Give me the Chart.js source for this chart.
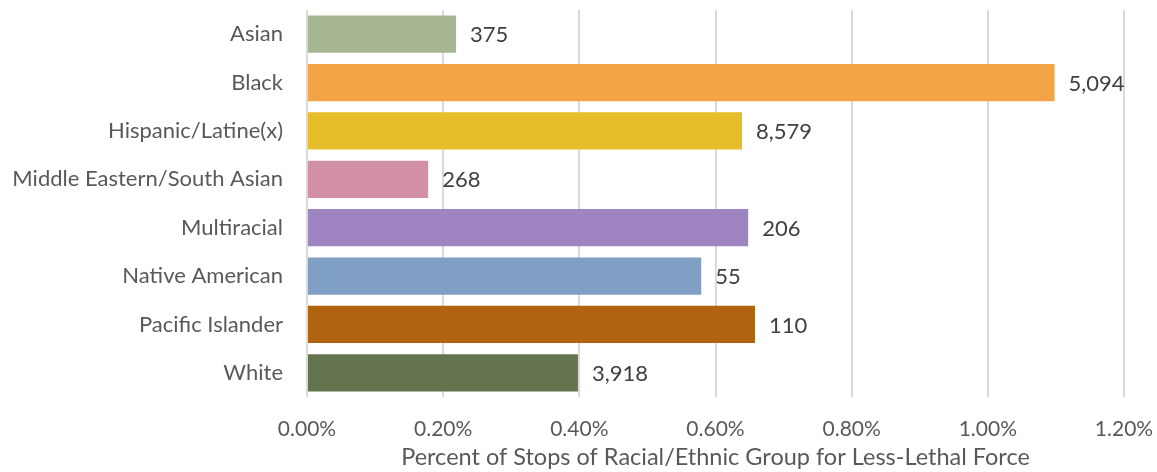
<!DOCTYPE html>
<html>
<head>
<meta charset="utf-8">
<script src="https://cdn.jsdelivr.net/npm/chart.js@4"></script>
<style>
  html, body { margin: 0; padding: 0; background: #fff; }
  #wrap { width: 1157px; height: 472px; }
</style>
</head>
<body>
<div id="wrap"><canvas id="forceChart" width="1157" height="472"></canvas></div>
<script>
const groups = ['Asian', 'Black', 'Hispanic/Latine(x)', 'Middle Eastern/South Asian', 'Multiracial', 'Native American', 'Pacific Islander', 'White']
const percentStops = [0.219, 1.098, 0.639, 0.178, 0.648, 0.579, 0.658, 0.398]
const stopCounts = ['375', '5,094', '8,579', '268', '206', '55', '110', '3,918']
const barColors = ['#a7b692', '#f2a447', '#e6bd2a', '#d290a5', '#9e84c0', '#7f9fc4', '#b0640f', '#64744f']
const xTicks = [0, 0.2, 0.4, 0.6, 0.8, 1.0, 1.2]

const fontFamily = 'Lato, "Open Sans", sans-serif'

const countLabels = {
  id: 'countLabels',
  afterDatasetsDraw(chart) {
    const { ctx } = chart
    const meta = chart.getDatasetMeta(0)
    ctx.save()
    ctx.font = '22px ' + fontFamily
    ctx.fillStyle = '#404040'
    ctx.textAlign = 'left'
    ctx.textBaseline = 'middle'
    meta.data.forEach((bar, i) => {
      ctx.fillText(stopCounts[i], bar.x + 14, bar.y + 1)
    })
    ctx.restore()
  }
}

const ctx = document.getElementById('forceChart').getContext('2d')
new Chart(ctx, {
  type: 'bar',
  data: {
    labels: groups,
    datasets: [{
      data: percentStops,
      backgroundColor: barColors,
      borderWidth: 0,
      barPercentage: 0.77,
      categoryPercentage: 1
    }]
  },
  options: {
    indexAxis: 'y',
    responsive: false,
    animation: false,
    layout: { padding: { top: 10, right: 33, left: 0, bottom: 0 } },
    plugins: {
      legend: { display: false },
      tooltip: { enabled: false }
    },
    scales: {
      x: {
        min: 0,
        max: 1.2,
        afterBuildTicks(scale) {
          scale.ticks = xTicks.map(v => ({ value: v }))
        },
        afterFit(scale) {
          scale.height = 75
          scale.paddingLeft = 0
          scale.paddingRight = 0
        },
        grid: { color: '#d9d9d9', lineWidth: 2, drawTicks: false },
        border: { display: false },
        ticks: {
          padding: 20,
          color: '#595959',
          font: { family: fontFamily, size: 21 },
          callback: v => v.toFixed(2) + '%'
        },
        title: {
          display: true,
          text: 'Percent of Stops of Racial/Ethnic Group for Less-Lethal Force',
          color: '#595959',
          font: { family: fontFamily, size: 23.5 },
          padding: { top: 0, bottom: 0 }
        }
      },
      y: {
        afterFit(scale) {
          scale.width = 307
          scale.paddingTop = 0
          scale.paddingBottom = 0
        },
        grid: { display: false, drawTicks: false },
        border: { display: false },
        ticks: {
          padding: 24,
          color: '#595959',
          font: { family: fontFamily, size: 22 }
        }
      }
    }
  },
  plugins: [countLabels]
})
</script>
</body>
</html>
